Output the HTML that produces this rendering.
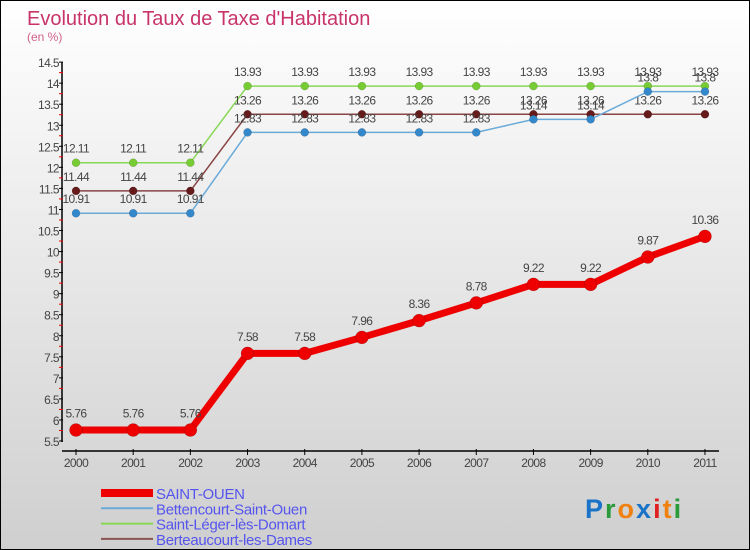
<!DOCTYPE html>
<html><head><meta charset="utf-8"><style>
body{margin:0;}
#wrap{position:relative;width:748px;height:548px;border:1px solid #000;background:linear-gradient(#ffffff,#cfcfcf);font-family:"Liberation Sans",sans-serif;overflow:hidden;}
svg{position:absolute;left:0;top:0;}
</style></head><body>
<div id="wrap">
<svg id="chart" width="750" height="550"></svg>
</div>
<script>
const years=["2000","2001","2002","2003","2004","2005","2006","2007","2008","2009","2010","2011"];
const saintOuen=[5.76,5.76,5.76,7.58,7.58,7.96,8.36,8.78,9.22,9.22,9.87,10.36];
const bettencourt=[10.91,10.91,10.91,12.83,12.83,12.83,12.83,12.83,13.14,13.14,13.8,13.8];
const saintLeger=[12.11,12.11,12.11,13.93,13.93,13.93,13.93,13.93,13.93,13.93,13.93,13.93];
const berteaucourt=[11.44,11.44,11.44,13.26,13.26,13.26,13.26,13.26,13.26,13.26,13.26,13.26];
const yTicks=[5.5,6,6.5,7,7.5,8,8.5,9,9.5,10,10.5,11,11.5,12,12.5,13,13.5,14,14.5];
const seriesNames=["SAINT-OUEN","Bettencourt-Saint-Ouen","Saint-Léger-lès-Domart","Berteaucourt-les-Dames"];
const NS="http://www.w3.org/2000/svg";
const svg=document.getElementById('chart');
function X(i){return 75+i*57.18;}
function Y(v){return 440-(v-5.5)*42.1;}
function el(t,a,p){const e=document.createElementNS(NS,t);for(const k in a)e.setAttribute(k,a[k]);(p||svg).appendChild(e);return e;}
function txt(x,y,s,a){const e=el('text',Object.assign({x:x,y:y},a));e.textContent=s;return e;}
let t=txt(26,24,"Evolution du Taux de Taxe d'Habitation",{fill:'#c8336a','font-size':20});


t=txt(26,40,"(en %)",{fill:'#d0608a','font-size':12});


let ax=el('line',{x1:61,y1:61,x2:61,y2:441,stroke:'#000','stroke-width':1.5});


yTicks.forEach((v,i)=>{
 el('line',{x1:58,y1:Y(v),x2:62,y2:Y(v),stroke:'#000'});
 if(i<yTicks.length-1) el('line',{x1:58,y1:Y(v+0.25),x2:62,y2:Y(v+0.25),stroke:'#e00'});
 const l=txt(58,Y(v)+5,String(v),{'text-anchor':'end','font-size':12,fill:'#444','letter-spacing':'-0.6'});
 
 
});
ax=el('line',{x1:61,y1:450,x2:718,y2:450,stroke:'#000','stroke-width':1.5});


years.forEach((y,i)=>{
 el('line',{x1:X(i),y1:448,x2:X(i),y2:454,stroke:'#000'});
 const l=txt(X(i),466,y,{'text-anchor':'middle','font-size':12,fill:'#444','letter-spacing':'-0.6'});
 
 
});
function series(data,color,lc,w,r,name){
 const g=el('g',{});
 
 
 el('polyline',{points:data.map((v,i)=>X(i)+','+Y(v)).join(' '),fill:'none',stroke:lc,'stroke-width':w,'stroke-linejoin':'round'},g);
 data.forEach((v,i)=>{
  const c=el('circle',{cx:X(i),cy:Y(v),r:r,fill:color,stroke:'rgba(0,0,0,0.25)','stroke-width':0.5},g);
  
  
  const l=txt(X(i),Y(v)-(r+6),String(v),{'text-anchor':'middle','font-size':12,fill:'#444','letter-spacing':'-0.6'},g);
  
  
 });
}
series(saintLeger,'#77cc33','#88d855',1.5,4,'series-saint-leger');
series(berteaucourt,'#661a1a','#8a4444',1.5,4,'series-berteaucourt');
series(bettencourt,'#3388cc','#6aaad8',1.5,4,'series-bettencourt');
series(saintOuen,'#ee0000','#ee0000',7,6.5,'series-saint-ouen');
const legColors=['#ee0000','#6aaad8','#88d855','#8a5555'];
const legW=[8,2,2,2];
seriesNames.forEach((n,i)=>{
 const y=492+i*15.3;
 const g=el('g',{});
 
 
 el('line',{x1:100,y1:y,x2:152,y2:y,stroke:legColors[i],'stroke-width':legW[i]},g);
 txt(155,y+6,n,{'font-size':15,fill:'#5555ee','letter-spacing':'-0.3'},g);
});
const logo=el('g',{});


const lt=txt(584,517,'',{'font-size':27,'font-weight':'bold','letter-spacing':'2'},logo);
[['P','#1a73c9'],['r','#2a9a3a'],['o','#f08010'],['x','#1a73c9'],['i','#e02020'],['t','#f08010'],['i','#2a9a3a']].forEach(([c,f])=>{const s=document.createElementNS(NS,'tspan');s.setAttribute('fill',f);s.textContent=c;lt.appendChild(s);});
</script>
</body></html>
